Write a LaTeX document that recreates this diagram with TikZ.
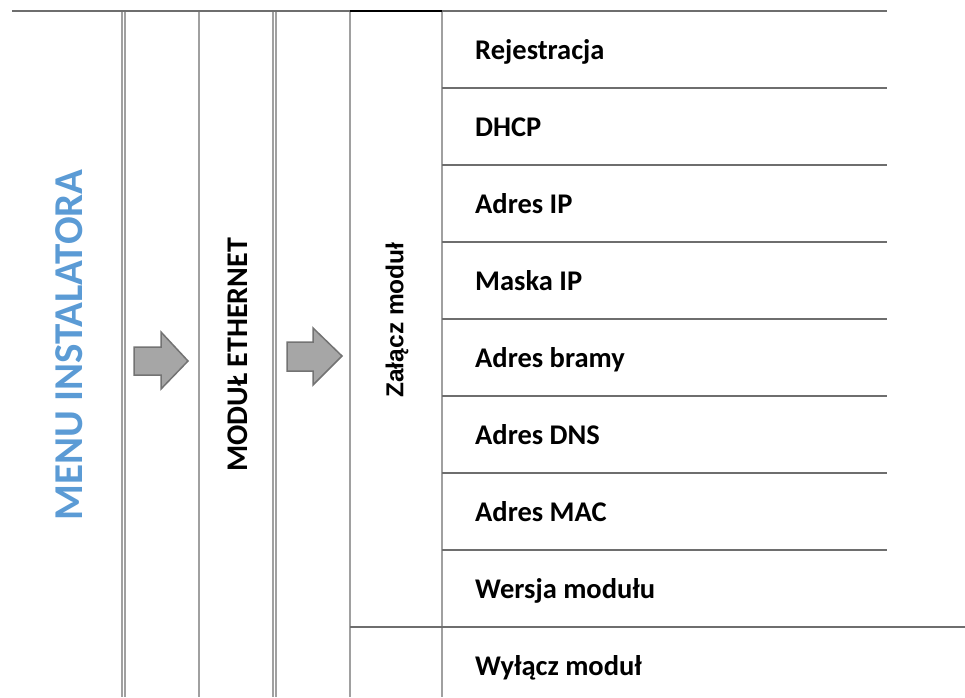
\documentclass[tikz,border=0pt]{standalone}
\usepackage{fontspec}
\setmainfont{Carlito}
\newfontfamily\arialfont{Liberation Sans}
\usetikzlibrary{positioning}
\definecolor{MenuBlue}{RGB}{91,155,213}
\definecolor{GridGray}{RGB}{160,160,160}
\definecolor{RuleGray}{RGB}{110,110,110}
\definecolor{ArrowFill}{RGB}{166,166,166}
\definecolor{ArrowEdge}{RGB}{115,115,115}

\begin{document}
\begin{tikzpicture}[x=1pt, y=-1pt,
    colline/.style={GridGray, line width=1.5pt},
    rowline/.style={RuleGray, line width=1.6pt},
    itemlabel/.style={anchor=base west, inner sep=0pt, font=\bfseries\fontsize{28.5}{28.5}\selectfont},
    blockarrow/.style={fill=ArrowFill, draw=ArrowEdge, line width=1.5pt, line join=miter}]
    \useasboundingbox (0,0) rectangle (965,697);

    % Column lines
    \draw[colline] (122,11) -- (122,697);
    \draw[colline] (125,11) -- (125,697);
    \draw[colline] (199,11) -- (199,697);
    \draw[colline] (273,11) -- (273,697);
    \draw[colline] (276,11) -- (276,697);
    \draw[colline] (350,11) -- (350,697);
    \draw[colline] (442,11) -- (442,697);

    % Top line
    \draw[rowline] (12,11) -- (350,11);
    \draw[black, line width=1.6pt] (350,11) -- (442,11);
    \draw[rowline] (442,11) -- (887,11);

    % Row lines
    \foreach \y in {88,165,242,319,396,473,550}
        \draw[rowline] (442,\y) -- (887,\y);
    \draw[rowline] (350,627) -- (965,627);

    % Block arrows
    \draw[blockarrow] (134,347) -- (161,347) -- (161,332) -- (188,361)
        -- (161,389) -- (161,375) -- (134,375) -- cycle;
    \draw[blockarrow] (287,342) -- (313,342) -- (313,328) -- (342,356)
        -- (313,385) -- (313,371) -- (287,371) -- cycle;

    % Column titles
    \node[rotate=90, MenuBlue, font=\bfseries\fontsize{41}{41}\selectfont] (menu) at (69,345) {MENU INSTALATORA};
    \node[rotate=90, font=\bfseries\fontsize{30}{30}\selectfont] (ethernet) at (238,355) {MODUŁ ETHERNET};
    \node[rotate=90, font=\arialfont\bfseries\fontsize{24.5}{24.5}\selectfont] (zalacz) at (397,320) {Załącz moduł};

    % Menu items
    \node[itemlabel] (rejestracja) at (475,59) {Rejestracja};
    \node[itemlabel] (dhcp) at (475,136) {DHCP};
    \node[itemlabel] (adresip) at (475,213) {Adres IP};
    \node[itemlabel] (maska) at (475,290) {Maska IP};
    \node[itemlabel] (brama) at (475,367) {Adres bramy};
    \node[itemlabel] (dns) at (475,444) {Adres DNS};
    \node[itemlabel] (mac) at (475,521) {Adres MAC};
    \node[itemlabel] (wersja) at (475,598) {Wersja modułu};
    \node[itemlabel] (wylacz) at (475,675) {Wyłącz moduł};
\end{tikzpicture}
\end{document}
